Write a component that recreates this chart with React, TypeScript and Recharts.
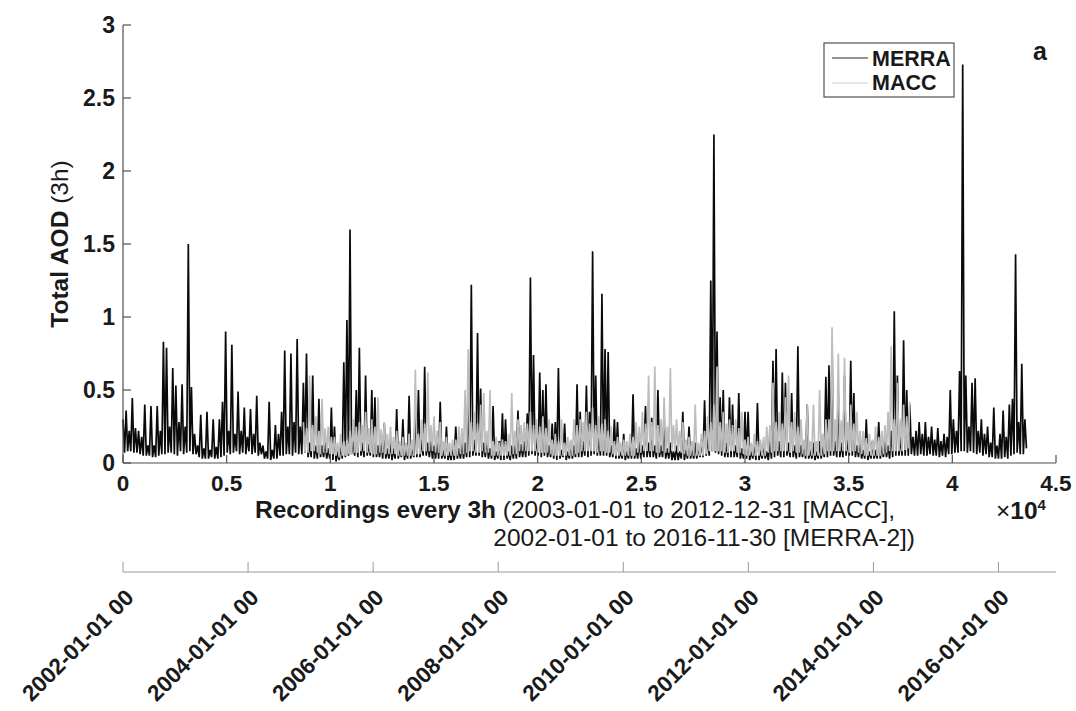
import React from 'react';
import { LineChart, Line, XAxis, YAxis } from 'recharts';

const FONT = '"Liberation Sans", Arial, Helvetica, sans-serif';
const AXIS = '#505050';
const TEXT = '#1a1a1a';

// one value every STEP recordings
const STEP = 75;
const MERRA_START = 0;
const MACC_START = 8700;

// MERRA total AOD (3h)
const merraAOD = [
  0.30, 0.07, 0.36, 0.08, 0.22, 0.08, 0.445, 0.07, 0.24, 0.07,
  0.22, 0.06, 0.18, 0.05, 0.40, 0.05, 0.12, 0.05, 0.39, 0.04,
  0.12, 0.04, 0.39, 0.05, 0.22, 0.06, 0.83, 0.06, 0.79, 0.07,
  0.25, 0.07, 0.65, 0.06, 0.53, 0.05, 0.28, 0.08, 0.54, 0.06,
  0.25, 0.07, 1.50, 0.08, 0.52, 0.06, 0.20, 0.06, 0.12, 0.04,
  0.33, 0.03, 0.10, 0.03, 0.35, 0.03, 0.09, 0.04, 0.30, 0.03,
  0.11, 0.03, 0.30, 0.04, 0.42, 0.05, 0.90, 0.07, 0.22, 0.06,
  0.81, 0.07, 0.20, 0.08, 0.49, 0.06, 0.22, 0.07, 0.38, 0.06,
  0.18, 0.08, 0.37, 0.06, 0.20, 0.07, 0.46, 0.05, 0.14, 0.06,
  0.12, 0.03, 0.08, 0.03, 0.42, 0.02, 0.09, 0.03, 0.26, 0.03,
  0.20, 0.05, 0.35, 0.05, 0.77, 0.06, 0.25, 0.06, 0.75, 0.05,
  0.28, 0.07, 0.85, 0.06, 0.25, 0.06, 0.55, 0.07,
  0.75, 0.04, 0.14, 0.04, 0.60, 0.03, 0.12, 0.03, 0.44, 0.04,
  0.12, 0.04, 0.15, 0.03, 0.10, 0.03, 0.38, 0.02, 0.25, 0.01,
  0.08, 0.02, 0.12, 0.03, 0.69, 0.04, 0.98, 0.05, 1.60, 0.06,
  0.15, 0.05, 0.50, 0.04, 0.79, 0.05, 0.14, 0.04, 0.60, 0.05,
  0.13, 0.05, 0.50, 0.04, 0.45, 0.04, 0.12, 0.04, 0.18, 0.03,
  0.27, 0.03, 0.10, 0.03, 0.15, 0.02, 0.10, 0.03, 0.37, 0.03,
  0.10, 0.04, 0.30, 0.02, 0.09, 0.03, 0.46, 0.03, 0.11, 0.04,
  0.36, 0.04, 0.50, 0.04, 0.16, 0.05, 0.66, 0.05, 0.14, 0.04,
  0.15, 0.03, 0.12, 0.03, 0.16, 0.03, 0.42, 0.03, 0.09, 0.03,
  0.25, 0.02, 0.08, 0.02, 0.12, 0.02, 0.25, 0.03, 0.10, 0.03,
  0.14, 0.03, 0.14, 0.04, 0.42, 0.04, 1.22, 0.05, 0.16, 0.05,
  0.89, 0.05, 0.51, 0.04, 0.14, 0.04, 0.18, 0.03, 0.10, 0.03,
  0.39, 0.02, 0.08, 0.03, 0.15, 0.02, 0.34, 0.02, 0.30, 0.03,
  0.08, 0.02, 0.12, 0.03, 0.12, 0.03, 0.36, 0.04, 0.13, 0.04,
  0.15, 0.04, 0.34, 0.05, 1.27, 0.06, 0.74, 0.05, 0.18, 0.05,
  0.62, 0.04, 0.50, 0.05, 0.54, 0.04, 0.12, 0.04, 0.27, 0.03,
  0.28, 0.02, 0.65, 0.03, 0.09, 0.04, 0.27, 0.02, 0.08, 0.03,
  0.15, 0.03, 0.12, 0.04, 0.54, 0.04, 0.35, 0.04, 0.15, 0.05,
  0.53, 0.04, 0.35, 0.05, 1.45, 0.06, 0.60, 0.05, 0.17, 0.05,
  1.16, 0.05, 0.78, 0.05, 0.76, 0.04, 0.12, 0.04, 0.30, 0.03,
  0.28, 0.03, 0.08, 0.03, 0.20, 0.02, 0.08, 0.03, 0.12, 0.03,
  0.47, 0.03, 0.10, 0.03, 0.15, 0.03, 0.12, 0.04, 0.39, 0.04,
  0.14, 0.04, 0.31, 0.04, 0.12, 0.03, 0.50, 0.04, 0.12, 0.04,
  0.30, 0.03, 0.10, 0.03, 0.14, 0.02, 0.08, 0.02, 0.12, 0.02,
  0.08, 0.03, 0.35, 0.02, 0.09, 0.03, 0.25, 0.03, 0.10, 0.03,
  0.14, 0.03, 0.12, 0.04, 0.16, 0.04, 0.43, 0.05, 0.18, 0.05,
  1.25, 0.08, 2.25, 0.07, 0.90, 0.06, 0.45, 0.05, 0.50, 0.04,
  0.14, 0.04, 0.45, 0.04, 0.40, 0.04, 0.12, 0.04, 0.48, 0.03,
  0.10, 0.03, 0.35, 0.03, 0.35, 0.02, 0.08, 0.03, 0.15, 0.02,
  0.41, 0.02, 0.09, 0.03, 0.14, 0.03, 0.08, 0.02, 0.15, 0.03,
  0.70, 0.04, 0.78, 0.05, 0.15, 0.04, 0.62, 0.04, 0.55, 0.05,
  0.14, 0.04, 0.48, 0.04, 0.12, 0.03, 0.80, 0.04, 0.12, 0.04,
  0.15, 0.03, 0.40, 0.03, 0.09, 0.03, 0.14, 0.02, 0.08, 0.03,
  0.15, 0.03, 0.12, 0.04, 0.59, 0.04, 0.67, 0.05, 0.77, 0.05,
  0.15, 0.04, 0.48, 0.04, 0.14, 0.04, 0.60, 0.05, 0.16, 0.05,
  0.70, 0.05, 0.48, 0.04, 0.12, 0.04, 0.18, 0.03, 0.09, 0.03,
  0.30, 0.02, 0.08, 0.03, 0.15, 0.03, 0.09, 0.03, 0.28, 0.03,
  0.12, 0.04, 0.15, 0.04, 0.12, 0.03, 0.22, 0.04, 1.04, 0.05,
  0.60, 0.05, 0.18, 0.05, 0.84, 0.05, 0.50, 0.05, 0.40, 0.06,
  0.18, 0.05, 0.22, 0.05, 0.28, 0.06, 0.20, 0.05, 0.28, 0.05,
  0.18, 0.06, 0.25, 0.05, 0.16, 0.05, 0.24, 0.04, 0.15, 0.05,
  0.20, 0.04, 0.18, 0.06, 0.50, 0.06, 0.30, 0.07, 0.22, 0.07,
  0.63, 0.08, 2.73, 0.08, 0.60, 0.07, 0.25, 0.08, 0.55, 0.07,
  0.58, 0.06, 0.22, 0.07, 0.30, 0.05, 0.20, 0.06, 0.25, 0.04,
  0.14, 0.04, 0.38, 0.03, 0.12, 0.03, 0.20, 0.03, 0.36, 0.04,
  0.18, 0.03, 0.40, 0.05, 0.44, 0.06, 1.43, 0.07, 0.28, 0.06,
  0.68, 0.06, 0.30, 0.10,
];

// MACC total AOD (3h)
const maccAOD = [
  0.28, 0.07, 0.24, 0.07, 0.60, 0.08, 0.26, 0.08, 0.32, 0.07,
  0.22, 0.06, 0.44, 0.07, 0.24, 0.07, 0.25, 0.06, 0.18, 0.06,
  0.18, 0.05, 0.14, 0.04, 0.20, 0.05, 0.15, 0.05, 0.16, 0.06,
  0.22, 0.06, 0.30, 0.07, 0.25, 0.07, 0.28, 0.08, 0.26, 0.08,
  0.35, 0.07, 0.24, 0.07, 0.30, 0.06, 0.25, 0.06, 0.45, 0.07,
  0.23, 0.07, 0.28, 0.06, 0.20, 0.06, 0.25, 0.06, 0.18, 0.06,
  0.22, 0.05, 0.15, 0.05, 0.18, 0.05, 0.14, 0.05, 0.20, 0.05,
  0.16, 0.05, 0.64, 0.06, 0.20, 0.06, 0.30, 0.08, 0.27, 0.08,
  0.62, 0.08, 0.26, 0.08, 0.32, 0.07, 0.22, 0.07, 0.28, 0.05,
  0.15, 0.05, 0.18, 0.05, 0.14, 0.05, 0.16, 0.05, 0.16, 0.05,
  0.25, 0.06, 0.24, 0.06, 0.50, 0.07, 0.78, 0.08, 0.28, 0.08,
  0.35, 0.07, 0.27, 0.07, 0.40, 0.08, 0.48, 0.07, 0.22, 0.07,
  0.50, 0.05, 0.15, 0.05, 0.18, 0.05, 0.14, 0.05, 0.16, 0.05,
  0.15, 0.05, 0.20, 0.05, 0.48, 0.06, 0.22, 0.06, 0.30, 0.08,
  0.26, 0.08, 0.28, 0.08, 0.27, 0.08, 0.35, 0.08, 0.26, 0.08,
  0.30, 0.07, 0.25, 0.07, 0.32, 0.07, 0.24, 0.07, 0.30, 0.06,
  0.16, 0.05, 0.20, 0.05, 0.15, 0.05, 0.30, 0.05, 0.14, 0.05,
  0.18, 0.05, 0.16, 0.05, 0.30, 0.06, 0.26, 0.07, 0.30, 0.08,
  0.28, 0.08, 0.35, 0.08, 0.27, 0.08, 0.38, 0.08, 0.26, 0.07,
  0.32, 0.08, 0.27, 0.08, 0.30, 0.07, 0.22, 0.07, 0.25, 0.06,
  0.15, 0.05, 0.18, 0.05, 0.14, 0.05, 0.16, 0.05, 0.15, 0.05,
  0.20, 0.05, 0.18, 0.05, 0.28, 0.07, 0.25, 0.07, 0.35, 0.08,
  0.27, 0.08, 0.60, 0.08, 0.28, 0.08, 0.66, 0.07, 0.26, 0.07,
  0.30, 0.08, 0.45, 0.07, 0.25, 0.07, 0.65, 0.08, 0.26, 0.08,
  0.30, 0.07, 0.22, 0.07, 0.28, 0.06, 0.16, 0.05, 0.18, 0.05,
  0.15, 0.05, 0.40, 0.05, 0.14, 0.05, 0.20, 0.05, 0.22, 0.06,
  0.32, 0.08, 0.28, 0.08, 0.40, 0.08, 0.66, 0.08, 0.28, 0.08,
  0.35, 0.07, 0.27, 0.07, 0.30, 0.08, 0.26, 0.08, 0.30, 0.07,
  0.24, 0.07, 0.35, 0.06, 0.16, 0.05, 0.18, 0.05, 0.14, 0.05,
  0.20, 0.05, 0.15, 0.05, 0.16, 0.05, 0.18, 0.05, 0.25, 0.07,
  0.26, 0.07, 0.55, 0.08, 0.28, 0.08, 0.35, 0.08, 0.27, 0.08,
  0.45, 0.08, 0.60, 0.07, 0.28, 0.08, 0.35, 0.07, 0.25, 0.07,
  0.30, 0.06, 0.16, 0.05, 0.40, 0.05, 0.15, 0.05, 0.40, 0.05,
  0.15, 0.05, 0.50, 0.05, 0.20, 0.06, 0.30, 0.08, 0.30, 0.08,
  0.93, 0.08, 0.30, 0.08, 0.75, 0.08, 0.29, 0.08, 0.72, 0.08,
  0.28, 0.07, 0.40, 0.08, 0.27, 0.08, 0.35, 0.07, 0.22, 0.06,
  0.22, 0.05, 0.17, 0.05, 0.20, 0.05, 0.16, 0.05, 0.25, 0.05,
  0.18, 0.05, 0.22, 0.06, 0.26, 0.07, 0.35, 0.08, 0.80, 0.08,
  0.30, 0.08, 0.55, 0.08, 0.30, 0.08, 0.40, 0.09, 0.32, 0.10,
  0.42,
];

const xTicks = [0, 5000, 10000, 15000, 20000, 25000, 30000, 35000, 40000, 45000];
const xTickLabels = ['0', '0.5', '1', '1.5', '2', '2.5', '3', '3.5', '4', '4.5'];
const yTicks = [0, 0.5, 1, 1.5, 2, 2.5, 3];
const yTickLabels = ['0', '0.5', '1', '1.5', '2', '2.5', '3'];
const dateTicks = [2002, 2004, 2006, 2008, 2010, 2012, 2014, 2016];
const dateTickLabels = [
  '2002-01-01 00', '2004-01-01 00', '2006-01-01 00', '2008-01-01 00',
  '2010-01-01 00', '2012-01-01 00', '2014-01-01 00', '2016-01-01 00',
];
const DATE_END = 2016.92; // 2016-11-30
const seriesNames = ['MERRA', 'MACC'];

const merraData = merraAOD.map((v, i) => ({ rec: MERRA_START + i * STEP, aod: v }));
const maccData = maccAOD.map((v, i) => ({ rec: MACC_START + i * STEP, aod: v }));
const dateAxisData = dateTicks.map((t) => ({ year: t }));

const XTickBottom = (props: any) => {
  const { x, y, payload } = props;
  const label = xTickLabels[xTicks.indexOf(payload.value)];
  return (
    <g>
      <line x1={x} x2={x} y1={y} y2={y - 8} stroke={AXIS} strokeWidth={1.2} />
      <text x={x} y={y + 28} textAnchor="middle" fontFamily={FONT} fontWeight="bold" fontSize={22.5} fill={TEXT}>
        {label}
      </text>
    </g>
  );
};

const XTickTop = (props: any) => {
  const { x, y } = props;
  return <line x1={x} x2={x} y1={y} y2={y + 8} stroke={AXIS} strokeWidth={1.2} />;
};

const YTickLeft = (props: any) => {
  const { x, y, payload } = props;
  const label = yTickLabels[yTicks.indexOf(payload.value)];
  return (
    <g>
      <line x1={x} x2={x + 8} y1={y} y2={y} stroke={AXIS} strokeWidth={1.2} />
      <text x={x - 8} y={y + 8} textAnchor="end" fontFamily={FONT} fontWeight="bold" fontSize={23} fill={TEXT}>
        {label}
      </text>
    </g>
  );
};

const YTickRight = (props: any) => {
  const { x, y } = props;
  return <line x1={x} x2={x - 9} y1={y} y2={y} stroke={AXIS} strokeWidth={1.2} />;
};

const DateTick = (props: any) => {
  const { x, y, payload } = props;
  const label = dateTickLabels[dateTicks.indexOf(payload.value)];
  const px = x + 12;
  const py = y + 27;
  return (
    <g>
      <line x1={x} x2={x} y1={y} y2={y - 10} stroke="#9a9a9a" strokeWidth={1} />
      <text
        x={px}
        y={py}
        textAnchor="end"
        transform={`rotate(-45, ${px}, ${py})`}
        fontFamily={FONT}
        fontWeight="bold"
        fontSize={22.5}
        fill={TEXT}
      >
        {label}
      </text>
    </g>
  );
};

const XLabel = () => (
  <g fontFamily={FONT} fontSize={24.5} fill={TEXT}>
    <text x={255} y={518}>
      <tspan fontWeight="bold">Recordings every 3h</tspan>
      <tspan> (2003-01-01 to 2012-12-31 [MACC],</tspan>
    </text>
    <text x={915} y={546} textAnchor="end">2002-01-01 to 2016-11-30 [MERRA-2])</text>
    <text x={996} y={519}>
      <tspan>×</tspan>
      <tspan fontWeight="bold">10</tspan>
      <tspan fontWeight="bold" fontSize={15} dy={-9}>4</tspan>
    </text>
  </g>
);

const YLabel = () => (
  <text
    x={68}
    y={244}
    textAnchor="middle"
    transform="rotate(-90, 68, 244)"
    fontFamily={FONT}
    fontSize={24.5}
    fill={TEXT}
  >
    <tspan fontWeight="bold">Total AOD</tspan>
    <tspan> (3h)</tspan>
  </text>
);

const LegendBox = () => (
  <svg width={1076} height={711} style={{ position: 'absolute', left: 0, top: 0, pointerEvents: 'none' }}>
    <rect x={824} y={43} width={130} height={54} fill="#fff" stroke={AXIS} strokeWidth={1.2} />
    <line x1={832} x2={868} y1={58} y2={58} stroke="#2a2a2a" strokeWidth={1.2} />
    <line x1={832} x2={868} y1={83} y2={83} stroke="#cfcfcf" strokeWidth={1.2} />
    <text x={872} y={66} fontFamily={FONT} fontWeight="bold" fontSize={21.5} fill={TEXT}>{seriesNames[0]}</text>
    <text x={872} y={90} fontFamily={FONT} fontWeight="bold" fontSize={21.5} fill={TEXT}>{seriesNames[1]}</text>
    <text x={1033} y={60} fontFamily={FONT} fontWeight="bold" fontSize={25} fill={TEXT}>a</text>
  </svg>
);

export default function App() {
  return (
    <div style={{ position: 'absolute', left: 0, top: 0, width: 1076, height: 711, background: '#fff', overflow: 'hidden' }}>
      <LineChart width={1076} height={711} margin={{ top: 25, right: 20, bottom: 0, left: 63 }}>
        <XAxis
          xAxisId="x1"
          dataKey="rec"
          type="number"
          domain={[0, 45000]}
          ticks={xTicks}
          interval={0}
          height={109}
          tickSize={0}
          tickMargin={0}
          tickLine={false}
          axisLine={{ stroke: AXIS, strokeWidth: 1.2 }}
          tick={XTickBottom}
          label={XLabel}
        />
        <XAxis
          xAxisId="x2"
          dataKey="year"
          type="number"
          domain={[2002, DATE_END]}
          allowDataOverflow
          ticks={dateTicks}
          interval={0}
          height={139}
          tickSize={0}
          tickMargin={0}
          tickLine={false}
          axisLine={{ stroke: '#9a9a9a', strokeWidth: 1 }}
          tick={DateTick}
        />
        <XAxis
          xAxisId="top"
          orientation="top"
          type="number"
          domain={[0, 45000]}
          allowDataOverflow
          ticks={xTicks}
          interval={0}
          height={0}
          tickSize={0}
          tickMargin={0}
          tickLine={false}
          axisLine={{ stroke: AXIS, strokeWidth: 1.2 }}
          tick={XTickTop}
        />
        <YAxis
          yAxisId="left"
          type="number"
          domain={[0, 3]}
          ticks={yTicks}
          interval={0}
          width={60}
          tickSize={0}
          tickMargin={0}
          tickLine={false}
          axisLine={{ stroke: AXIS, strokeWidth: 1.2 }}
          tick={YTickLeft}
          label={YLabel}
        />
        <YAxis
          yAxisId="right"
          orientation="right"
          type="number"
          domain={[0, 3]}
          allowDataOverflow
          ticks={yTicks}
          interval={0}
          width={0}
          tickSize={0}
          tickMargin={0}
          tickLine={false}
          axisLine={{ stroke: AXIS, strokeWidth: 1.2 }}
          tick={YTickRight}
        />
        <Line
          data={dateAxisData}
          dataKey="year"
          xAxisId="x2"
          yAxisId="right"
          stroke="none"
          dot={false}
          activeDot={false}
          legendType="none"
          isAnimationActive={false}
        />
        <Line
          name={seriesNames[0]}
          data={merraData}
          dataKey="aod"
          xAxisId="x1"
          yAxisId="left"
          type="linear"
          stroke="#0a0a0a"
          strokeWidth={1.7}
          dot={false}
          activeDot={false}
          isAnimationActive={false}
        />
        <Line
          name={seriesNames[1]}
          data={maccData}
          dataKey="aod"
          xAxisId="x1"
          yAxisId="left"
          type="linear"
          stroke="#bdbdbd"
          strokeWidth={1.7}
          dot={false}
          activeDot={false}
          isAnimationActive={false}
        />
      </LineChart>
      <LegendBox />
    </div>
  );
}
